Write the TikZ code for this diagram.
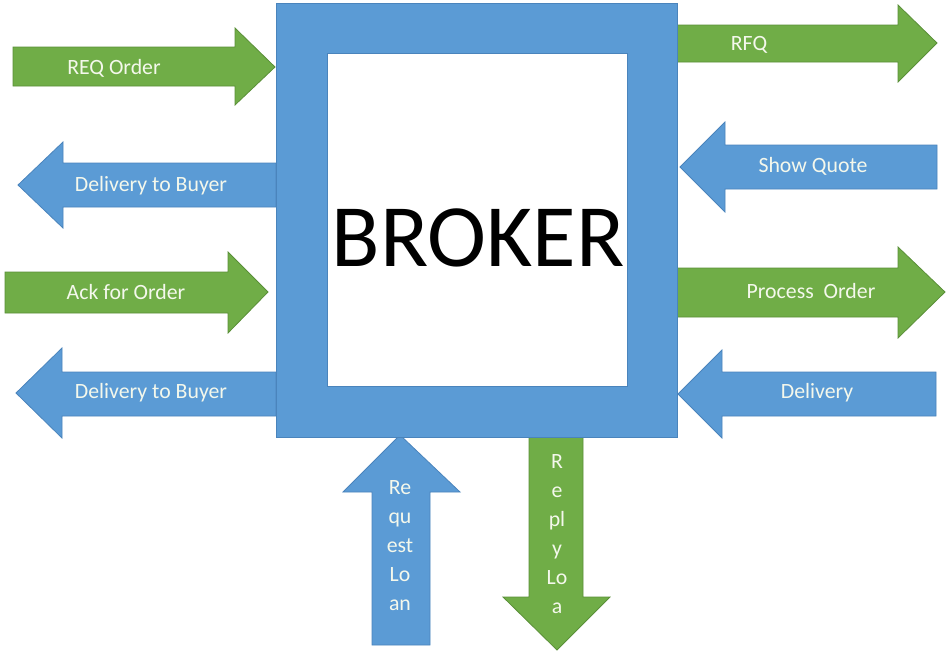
\documentclass[tikz,border=0pt]{standalone}
\usepackage{fontspec}
\setmainfont{Carlito}
\definecolor{gfill}{HTML}{70AD47}
\definecolor{gline}{HTML}{5A8F38}
\definecolor{bfill}{HTML}{5B9BD5}
\definecolor{bline}{HTML}{4A84BC}
\definecolor{ltext}{HTML}{F4F8EC}
\begin{document}
\begin{tikzpicture}[x=1pt,y=-1pt,
  garrow/.style={fill=gfill,draw=gline,line width=0.8pt,line join=miter},
  barrow/.style={fill=bfill,draw=bline,line width=0.8pt,line join=miter},
  lbl/.style={text=ltext,font=\fontsize{21.8}{26}\selectfont,inner sep=0pt},
  vlbl/.style={text=ltext,font=\fontsize{21.8}{29}\selectfont,align=center,inner sep=0pt}]
\useasboundingbox[fill=white] (0,0) rectangle (948,651);
% left side
\draw[garrow] (13,47)--(235,47)--(235,28)--(275,67)--(235,105)--(235,86)--(13,86)--cycle;
\node[lbl] (reqorder) at (114,68) {REQ Order};
\draw[barrow] (276,163)--(63,163)--(63,142)--(18,185)--(63,228)--(63,207)--(276,207)--cycle;
\node[lbl] (deliv1) at (151,186) {Delivery to Buyer};
\draw[garrow] (5,272)--(228,272)--(228,252)--(268,292)--(228,333)--(228,313)--(5,313)--cycle;
\node[lbl] (ack) at (126,292) {Ack for Order};
\draw[barrow] (276,372)--(62,372)--(62,348)--(16,393)--(62,438)--(62,416)--(276,416)--cycle;
\node[lbl] (deliv2) at (151,393) {Delivery to Buyer};
% right side
\draw[garrow] (677,25)--(898,25)--(898,5)--(937,43)--(898,82)--(898,62)--(677,62)--cycle;
\node[lbl] (rfq) at (749,45) {RFQ};
\draw[barrow] (937,145)--(725,145)--(725,122)--(680,167)--(725,212)--(725,189)--(937,189)--cycle;
\node[lbl] (quote) at (813,166) {Show Quote};
\draw[garrow] (677,268)--(898,268)--(898,247)--(945,292)--(898,338)--(898,317)--(677,317)--cycle;
\node[lbl] (process) at (811,291) {Process\ \ Order};
\draw[barrow] (936,372)--(722,372)--(722,350)--(678,394)--(722,438)--(722,416)--(936,416)--cycle;
\node[lbl] (delivery) at (817,393) {Delivery};
% bottom
\draw[barrow] (372,645)--(372,492)--(343,492)--(400,435)--(460,492)--(430,492)--(430,645)--cycle;
\node[vlbl] (reqloan) at (400,546) {Re\\qu\\est\\Lo\\an};
\draw[garrow] (529,437)--(529,597)--(503,597)--(557,650)--(610,597)--(583,597)--(583,437)--cycle;
\node[vlbl] (replyloan) at (557,534) {R\\e\\pl\\y\\Lo\\a};
% broker frame
\fill[bfill,draw=bline,line width=0.8pt,even odd rule] (276,3) rectangle (677,437) (327,53) rectangle (627,386);
\node[font=\fontsize{89}{92}\selectfont,inner sep=0pt] (broker) at (478,238) {BROKER};
\end{tikzpicture}
\end{document}
